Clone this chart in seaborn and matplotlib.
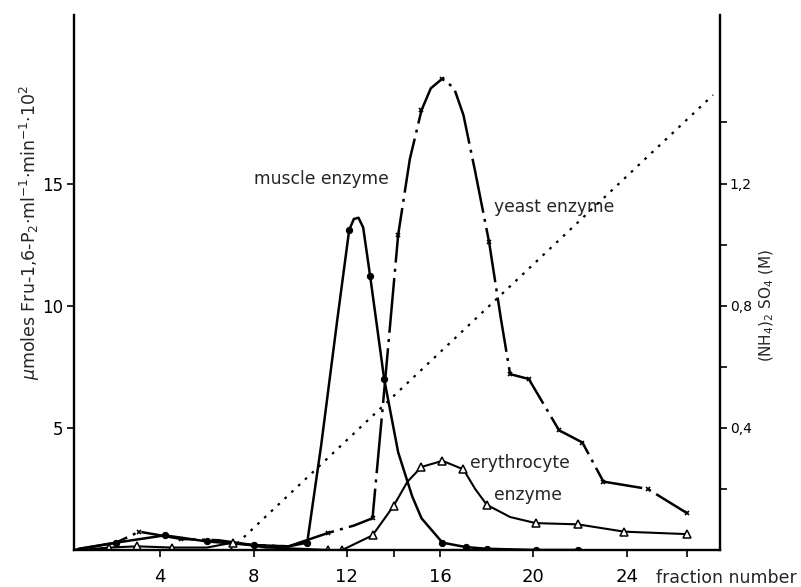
import matplotlib
matplotlib.use("Agg")
import matplotlib.pyplot as plt
import seaborn as sns

# fraction numbers / activities
mus_x = [0.5, 2.1, 4.2, 6.0, 8.0, 9.5, 10.3, 10.9, 11.6, 12.1, 12.3, 12.5, 12.7, 13.0, 13.6, 14.2, 14.8, 15.2, 16.1, 17.1, 18.0, 20.1, 21.9]
mus_y = [0.05, 0.3, 0.6, 0.35, 0.2, 0.15, 0.3, 4.3, 9.5, 13.1, 13.55, 13.6, 13.2, 11.2, 7.0, 4.0, 2.2, 1.3, 0.3, 0.12, 0.05, 0.0, 0.0]
mus_mark_x = [2.1, 4.2, 6.0, 8.0, 10.3, 12.1, 13.0, 13.6, 16.1, 17.1, 18.0, 20.1, 21.9]

yst_x = [0.3, 2.1, 3.1, 4.9, 6.5, 8.0, 9.5, 11.2, 12.3, 13.1, 13.6, 14.2, 14.7, 15.2, 15.6, 16.1, 16.6, 17.0, 17.5, 18.1, 18.6, 19.0, 19.8, 21.1, 22.1, 23.0, 24.9, 26.6]
yst_y = [0.0, 0.3, 0.75, 0.45, 0.4, 0.2, 0.15, 0.7, 1.0, 1.3, 6.5, 12.9, 16.0, 18.0, 18.9, 19.3, 18.9, 17.8, 15.5, 12.6, 9.5, 7.2, 7.0, 4.9, 4.4, 2.8, 2.5, 1.5]
yst_mark_x = [2.1, 3.1, 4.9, 8.0, 11.2, 13.1, 14.2, 15.2, 16.1, 18.1, 19.0, 19.8, 21.1, 22.1, 23.0, 24.9, 26.6]

ery_x = [0.5, 1.8, 3.0, 4.5, 6.0, 7.1, 8.5, 10.0, 11.2, 11.8, 13.1, 14.0, 14.6, 15.2, 16.1, 17.0, 17.5, 18.0, 19.0, 20.1, 21.9, 23.9, 26.6]
ery_y = [0.0, 0.1, 0.15, 0.1, 0.1, 0.3, 0.1, 0.05, 0.0, 0.0, 0.6, 1.8, 2.8, 3.4, 3.65, 3.3, 2.5, 1.85, 1.35, 1.1, 1.05, 0.75, 0.65]
ery_mark_x = [1.8, 3.0, 4.5, 7.1, 11.2, 11.8, 13.1, 14.0, 15.2, 16.1, 17.0, 18.0, 20.1, 21.9, 23.9, 26.6]

# ammonium sulfate gradient (M)
grad_x = [7.0, 27.7]
grad_m = [0.0, 1.49]

x_ticks = [4, 8, 12, 16, 20, 24]
y_ticks = [5, 10, 15]
m_ticks = [0.4, 0.8, 1.2]
m_labels = ["0,4", "0,8", "1,2"]

sns.set_style("ticks")
plt.rcParams["font.family"] = ["DejaVu Sans"]

fig = plt.figure(figsize=(8.01, 5.87), dpi=100)
ax = fig.add_axes([74 / 801, 1 - 550 / 587, (720 - 74) / 801, (550 - 15) / 587])
ax2 = ax.twinx()

lw = 1.8
sns.lineplot(x=mus_x, y=mus_y, ax=ax, color="k", linewidth=lw, marker="o",
             markersize=4.5, markeredgecolor="k",
             markevery=[mus_x.index(v) for v in mus_mark_x], sort=False)
sns.lineplot(x=yst_x, y=yst_y, ax=ax, color="k", linewidth=lw, marker="x",
             markersize=3.5, markeredgecolor="k", markeredgewidth=1.2,
             markevery=[yst_x.index(v) for v in yst_mark_x],
             linestyle=(0, (22, 2.5, 1.2, 2.5)), sort=False)
sns.lineplot(x=ery_x, y=ery_y, ax=ax, color="k", linewidth=1.5, marker="^",
             markersize=6, markerfacecolor="white", markeredgecolor="k",
             markeredgewidth=1.1, markevery=[ery_x.index(v) for v in ery_mark_x],
             sort=False)
sns.lineplot(x=grad_x, y=grad_m, ax=ax2, color="k", linewidth=1.6,
             linestyle=(0, (1.2, 3.0)), sort=False)

ax.set_xlim(0.3, 28.0)
ax.set_ylim(0, 21.9)
ax2.set_ylim(0, 21.9 * 0.08)

ax.set_xticks(x_ticks)
ax.set_xticks([14, 26.6], minor=True)
ax.set_yticks(y_ticks)
ax2.set_yticks(m_ticks)
ax2.set_yticklabels(m_labels)
ax2.set_yticks([0.2, 0.6, 1.0, 1.4], minor=True)

for a in (ax, ax2):
    a.tick_params(which="both", direction="out", length=5, width=1.2, colors="k")
    a.tick_params(axis="y", labelsize=12, pad=3)
ax.tick_params(axis="x", labelsize=13, pad=8)
ax2.tick_params(axis="y", labelsize=10, pad=2)

for s in ["top", "right"]:
    ax.spines[s].set_visible(False)
for s in ["top", "left", "bottom"]:
    ax2.spines[s].set_visible(False)
for sp in [ax.spines["left"], ax.spines["bottom"], ax2.spines["right"]]:
    sp.set_linewidth(1.7)
    sp.set_color("k")

ax.set_xlabel("")
ax.set_ylabel("")
ax2.set_ylabel("")

fig.text(30 / 801, 1 - 232 / 587,
         r"$\mu$moles Fru-1,6-P$_2$$\cdot$ml$^{-1}$$\cdot$min$^{-1}$$\cdot$10$^{2}$",
         rotation=90, ha="center", va="center", fontsize=12.5)
fig.text(767 / 801, 1 - 305 / 587, r"(NH$_4$)$_2$ SO$_4$ (M)",
         rotation=90, ha="center", va="center", fontsize=11)
fig.text(656 / 801, 1 - 578 / 587, "fraction number", ha="left", va="center", fontsize=12.5)

ax.text(10.9, 15.2, "muscle enzyme", fontsize=12.3, ha="center", va="center")
ax.text(18.3, 14.05, "yeast enzyme", fontsize=12.3, ha="left", va="center")
ax.text(17.3, 3.57, "erythrocyte", fontsize=12.3, ha="left", va="center")
ax.text(18.3, 2.25, "enzyme", fontsize=12.3, ha="left", va="center")

fig.savefig("out.png", dpi=100)
